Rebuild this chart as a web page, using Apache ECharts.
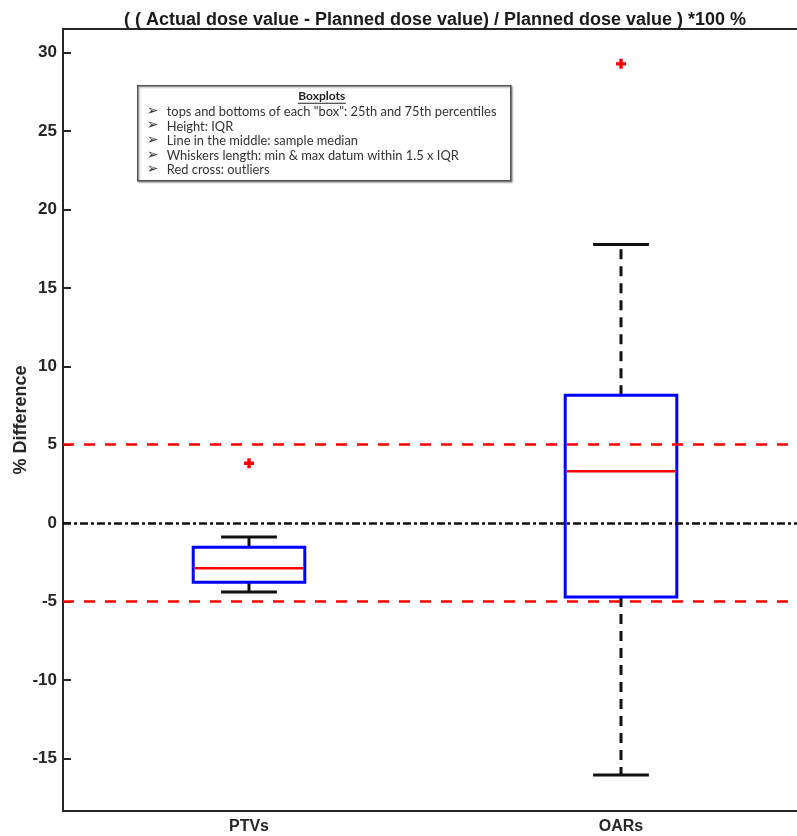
<!DOCTYPE html>
<html>
<head>
<meta charset="utf-8">
<script src="https://cdn.jsdelivr.net/npm/echarts@6/dist/echarts.min.js"></script>
<style>
  html, body { margin: 0; padding: 0; background: #fff; }
  #chart { width: 797px; height: 836px; }
</style>
</head>
<body>
<div id="chart"></div>
<script>
// categories and box statistics
var categories = ['PTVs', 'OARs'];
var whiskerLow = [-4.39, -16.05];
var q1 = [-3.76, -4.71];
var median = [-2.87, 3.31];
var q3 = [-1.53, 8.15];
var whiskerHigh = [-0.89, 17.77];
// outliers (red crosses)
var outlierCat = ['PTVs', 'OARs'];
var outlierVal = [3.82, 29.28];
// reference lines
var tolerance = [5, -5];
var zeroLine = 0;

var notes = [
    'tops and bottoms of each "box": 25th and 75th percentiles',
    'Height: IQR',
    'Line in the middle: sample median',
    'Whiskers length: min & max datum within 1.5 x IQR',
    'Red cross: outliers'
];

var axisColor = '#262626';
var boxData = categories.map(function (c, i) {
    return [i, whiskerLow[i], q1[i], median[i], q3[i], whiskerHigh[i]];
});
var outlierData = outlierCat.map(function (c, i) {
    return [c, outlierVal[i]];
});

var chart = echarts.init(document.getElementById('chart'));

// legend-like annotation box
var noteChildren = [{
    type: 'rect',
    shape: { x: 0, y: 0, width: 373, height: 95 },
    style: { fill: '#fff', stroke: '#555', lineWidth: 1.5,
        shadowBlur: 2, shadowColor: 'rgba(0,0,0,0.35)', shadowOffsetX: 1, shadowOffsetY: 1 }
}, {
    type: 'text',
    x: 184, y: 4,
    style: { text: 'Boxplots', fontFamily: 'Lato', fontWeight: 'bold', fontSize: 12,
        fill: '#222', align: 'center' }
}, {
    type: 'line',
    shape: { x1: 160, y1: 17.5, x2: 208, y2: 17.5 },
    style: { stroke: '#222', lineWidth: 1 }
}];
notes.forEach(function (t, i) {
    noteChildren.push({
        type: 'text', x: 9, y: 18.5 + i * 14.6,
        style: { text: '\u27a2', fontFamily: 'DejaVu Sans', fontSize: 14, fill: '#333' }
    });
    noteChildren.push({
        type: 'text', x: 29, y: 19.5 + i * 14.6,
        style: { text: t, fontFamily: 'Lato', fontSize: 12.9, fill: '#333' }
    });
});

var option = {
    animation: false,
    backgroundColor: '#fff',
    title: {
        text: '( ( Actual dose value - Planned dose value) / Planned dose value ) *100 %',
        left: 430, top: 6, textAlign: 'center',
        textStyle: { fontFamily: 'Liberation Sans', fontWeight: 'bold', fontSize: 18, color: '#1a1a1a' }
    },
    grid: { left: 63, top: 29, width: 744, bottom: 25, outerBoundsMode: 'none', containLabel: false },
    xAxis: [{
        type: 'category',
        data: categories,
        position: 'bottom',
        axisLine: { onZero: false, lineStyle: { color: axisColor, width: 2 } },
        axisTick: { inside: true, alignWithLabel: true, length: 8, lineStyle: { width: 2 } },
        axisLabel: { color: axisColor, fontFamily: 'Liberation Sans', fontWeight: 'bold', fontSize: 16, margin: 8 },
        splitLine: { show: false }
    }, {
        type: 'category',
        data: categories,
        position: 'top',
        axisLine: { onZero: false, lineStyle: { color: axisColor, width: 2 } },
        axisTick: { inside: true, alignWithLabel: true, length: 8, lineStyle: { width: 2 } },
        axisLabel: { show: false },
        splitLine: { show: false }
    }],
    yAxis: {
        type: 'value',
        min: -18.35,
        max: 31.5,
        splitNumber: 10,
        minInterval: 5,
        maxInterval: 5,
        name: '% Difference',
        nameLocation: 'middle',
        nameGap: 33,
        nameMoveOverlap: false,
        nameTextStyle: { color: axisColor, fontFamily: 'Liberation Sans', fontWeight: 'bold', fontSize: 18 },
        axisLine: { show: true, lineStyle: { color: axisColor, width: 2 } },
        axisTick: { show: true, inside: true, length: 8, lineStyle: { width: 2 } },
        axisLabel: { color: axisColor, fontFamily: 'Liberation Sans', fontWeight: 'bold', fontSize: 17,
            margin: 6, showMinLabel: false, showMaxLabel: false },
        splitLine: { show: false }
    },
    series: [{
        type: 'custom',
        name: 'box',
        data: boxData,
        encode: { x: 0, y: [1, 2, 3, 4, 5] },
        z: 2,
        renderItem: function (params, api) {
            var idx = api.value(0);
            var band = api.size([1, 0])[0];
            var x = api.coord([idx, 0])[0];
            var bw = band * 0.3;
            var cw = band * 0.15;
            var yLo = api.coord([idx, api.value(1)])[1];
            var yQ1 = api.coord([idx, api.value(2)])[1];
            var yMed = api.coord([idx, api.value(3)])[1];
            var yQ3 = api.coord([idx, api.value(4)])[1];
            var yHi = api.coord([idx, api.value(5)])[1];
            var black = { stroke: '#111', lineWidth: 3, lineDash: [10, 7] };
            var cap = { stroke: '#111', lineWidth: 3 };
            return {
                type: 'group',
                children: [
                    { type: 'line', shape: { x1: x, y1: yQ3, x2: x, y2: yHi }, style: black },
                    { type: 'line', shape: { x1: x, y1: yQ1, x2: x, y2: yLo }, style: black },
                    { type: 'line', shape: { x1: x - cw / 2, y1: yHi, x2: x + cw / 2, y2: yHi }, style: cap },
                    { type: 'line', shape: { x1: x - cw / 2, y1: yLo, x2: x + cw / 2, y2: yLo }, style: cap },
                    { type: 'rect', shape: { x: x - bw / 2, y: yQ3, width: bw, height: yQ1 - yQ3 },
                        style: { fill: 'none', stroke: '#0000ff', lineWidth: 3 } },
                    { type: 'line', shape: { x1: x - bw / 2 + 1.5, y1: yMed, x2: x + bw / 2 - 1.5, y2: yMed },
                        style: { stroke: '#ff0000', lineWidth: 2.5 } }
                ]
            };
        }
    }, {
        type: 'scatter',
        name: 'outliers',
        data: outlierData,
        symbol: 'path://M3.3,0H6.7V3.3H10V6.7H6.7V10H3.3V6.7H0V3.3H3.3Z',
        symbolSize: 10,
        itemStyle: { color: '#ff0000', opacity: 1 },
        z: 3
    }, {
        type: 'line',
        name: 'refs',
        data: [],
        markLine: {
            silent: true,
            symbol: 'none',
            label: { show: false },
            data: [
                { yAxis: tolerance[0], lineStyle: { color: '#ff0000', width: 2.5, type: [11, 10] } },
                { yAxis: tolerance[1], lineStyle: { color: '#ff0000', width: 2.5, type: [11, 10] } },
                { yAxis: zeroLine, lineStyle: { color: '#111', width: 2.5, type: [8, 3, 3, 3] } }
            ]
        },
        z: 4
    }],
    graphic: [{
        type: 'group',
        left: 137,
        top: 85,
        children: noteChildren
    }]
};
chart.setOption(option);
</script>
</body>
</html>
